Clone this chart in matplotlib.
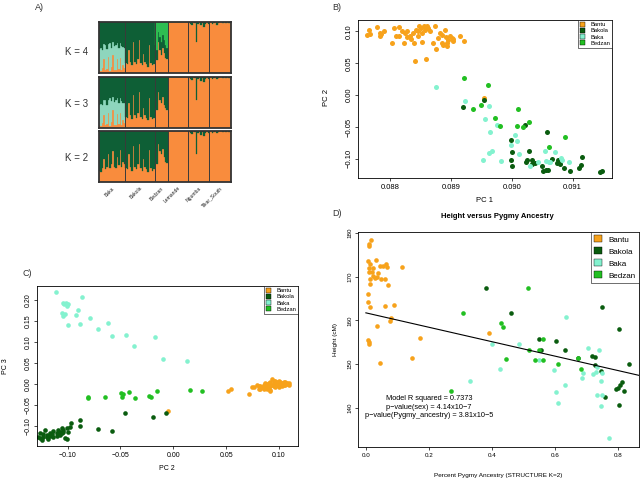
import numpy as np
import matplotlib
matplotlib.use("Agg")
import matplotlib.pyplot as plt
from matplotlib.patches import Patch

plt.rcParams["font.family"] = ["Liberation Sans Narrow", "Liberation Sans", "DejaVu Sans"]

W, H = 642, 482

# ── Panel A: STRUCTURE ancestry proportions ──
groups = ["Baka", "Bakola", "Bedzan", "Lemande", "Ngumba", "Tikar_South"]
group_sizes = [18, 20, 9, 14, 14, 15]

k2_orange = [0.22, 0.20, 0.28, 0.45, 0.25, 0.30, 0.55, 0.27, 0.35, 0.60, 0.30, 0.28, 0.50, 0.33, 0.62, 0.30, 0.40, 0.35,
             0.28, 0.25, 0.55, 0.30, 0.22, 0.70, 0.30, 0.25, 0.35, 0.75, 0.28, 0.22, 0.45, 0.30, 0.25, 0.20, 0.62, 0.28, 0.22, 0.25,
             0.40, 0.35, 0.75, 0.60, 0.55, 0.65, 0.50, 0.40, 0.38,
             1.0, 1.0, 1.0, 1.0, 1.0, 1.0, 1.0, 1.0, 1.0, 1.0, 1.0, 1.0, 1.0, 1.0,
             1.0, 0.97, 0.95, 1.0, 0.98, 0.55, 0.96, 1.0, 0.93, 0.98, 0.90, 0.96, 1.0, 0.97,
             0.98, 1.0, 0.97, 0.99, 1.0, 0.96, 0.99, 1.0, 1.0, 0.98, 1.0, 0.99, 1.0, 0.98, 0.99]

k3_orange = [0.05, 0.03, 0.10, 0.25, 0.05, 0.08, 0.30, 0.04, 0.12, 0.35, 0.06, 0.05, 0.28, 0.08, 0.30, 0.05, 0.15, 0.10,
             0.22, 0.20, 0.50, 0.25, 0.18, 0.65, 0.25, 0.20, 0.30, 0.70, 0.22, 0.18, 0.40, 0.25, 0.20, 0.15, 0.58, 0.22, 0.18, 0.20,
             0.40, 0.35, 0.70, 0.55, 0.50, 0.60, 0.45, 0.40, 0.35,
             1.0, 1.0, 1.0, 1.0, 1.0, 1.0, 1.0, 1.0, 1.0, 1.0, 1.0, 1.0, 1.0, 1.0,
             1.0, 0.97, 0.95, 1.0, 0.98, 0.55, 0.96, 1.0, 0.93, 0.98, 0.91, 0.96, 1.0, 0.97,
             0.98, 1.0, 0.97, 0.99, 1.0, 0.96, 0.99, 1.0, 1.0, 0.98, 1.0, 0.99, 1.0, 0.98, 0.99]
k3_teal_baka = [0.40, 0.45, 0.35, 0.30, 0.50, 0.38, 0.25, 0.55, 0.40, 0.25, 0.45, 0.50, 0.30, 0.42, 0.28, 0.48, 0.35, 0.40]

k4_orange = [0.05, 0.04, 0.10, 0.28, 0.05, 0.08, 0.32, 0.04, 0.12, 0.35, 0.06, 0.05, 0.28, 0.08, 0.30, 0.05, 0.15, 0.10,
             0.20, 0.18, 0.45, 0.22, 0.15, 0.60, 0.22, 0.18, 0.28, 0.65, 0.20, 0.15, 0.38, 0.22, 0.18, 0.12, 0.55, 0.20, 0.15, 0.18,
             0.30, 0.25, 0.60, 0.45, 0.35, 0.50, 0.40, 0.30, 0.28,
             1.0, 1.0, 1.0, 1.0, 1.0, 1.0, 1.0, 1.0, 1.0, 1.0, 1.0, 1.0, 1.0, 1.0,
             1.0, 0.97, 0.95, 1.0, 0.98, 0.60, 0.96, 1.0, 0.94, 0.98, 0.90, 0.96, 1.0, 0.97,
             0.98, 1.0, 0.96, 0.99, 1.0, 0.95, 0.99, 1.0, 1.0, 0.98, 1.0, 0.99, 1.0, 0.98, 0.99]
k4_teal_baka = [0.42, 0.45, 0.35, 0.28, 0.50, 0.40, 0.25, 0.55, 0.38, 0.25, 0.46, 0.50, 0.30, 0.42, 0.28, 0.47, 0.36, 0.40]
k4_green_bedzan = [0.45, 0.55, 0.20, 0.30, 0.40, 0.25, 0.35, 0.45, 0.50]

# ── Panels B-D: populations ──
pops = ["Bantu", "Bakola", "Baka", "Bedzan"]
pop_colors = {"Bantu": "#F7A21B", "Bakola": "#0A5C0F", "Baka": "#84F2CF", "Bedzan": "#22BF22"}

# B) PC1 vs PC2
b_bantu = [(0.08765, 0.1026), (0.08762, 0.0948), (0.08766, 0.0963), (0.08779, 0.1068), (0.08784, 0.0974),
           (0.08783, 0.0932), (0.08785, 0.0958), (0.08790, 0.1010), (0.08803, 0.0817), (0.08807, 0.1052),
           (0.08814, 0.1068), (0.08815, 0.0922), (0.08819, 0.1000), (0.08822, 0.0817), (0.08825, 0.0974),
           (0.08828, 0.1000), (0.08832, 0.0922), (0.08835, 0.0880), (0.08838, 0.0974), (0.08839, 0.0817),
           (0.08843, 0.1026), (0.08845, 0.1000), (0.08848, 0.1078), (0.08850, 0.1052), (0.08852, 0.0974),
           (0.08855, 0.1089), (0.08857, 0.1026), (0.08859, 0.1052), (0.08861, 0.1078), (0.08863, 0.1052),
           (0.08853, 0.0828), (0.08865, 0.1000), (0.08871, 0.0817), (0.08874, 0.1089), (0.08875, 0.0723),
           (0.08879, 0.0896), (0.08882, 0.0974), (0.08885, 0.0817), (0.08886, 0.0948), (0.08890, 0.1026),
           (0.08892, 0.0911), (0.08893, 0.0817), (0.08894, 0.0765), (0.08895, 0.0869), (0.08899, 0.0932),
           (0.08903, 0.0880), (0.08904, 0.0843), (0.08915, 0.0922), (0.08921, 0.0843), (0.08901, 0.0896),
           (0.08887, 0.0791), (0.08810, 0.0932), (0.08828, 0.0911), (0.08846, 0.0922), (0.08841, 0.0530),
           (0.08859, 0.0567), (0.08954, -0.0049)]
b_bakola = [(0.08919, -0.0185), (0.08955, -0.0070), (0.09022, -0.0467), (0.08999, -0.0707), (0.09000, -0.0890),
            (0.08999, -0.1010), (0.09000, -0.1104), (0.09025, -0.1025), (0.09028, -0.0884), (0.09033, -0.1010),
            (0.09033, -0.1078), (0.09039, -0.1072), (0.09050, -0.1114), (0.09052, -0.1192), (0.09056, -0.1182),
            (0.09060, -0.1182), (0.09058, -0.0582), (0.09066, -0.0999), (0.09074, -0.1072), (0.09076, -0.1010),
            (0.09079, -0.1088), (0.09086, -0.1140), (0.09096, -0.1192), (0.09110, -0.1140), (0.09114, -0.1098),
            (0.09116, -0.0968), (0.09145, -0.1208), (0.09149, -0.1192), (0.09024, -0.1046)]
b_baka = [(0.08875, 0.0128), (0.08923, -0.0086), (0.08963, -0.0175), (0.08956, -0.0368), (0.08975, -0.0462),
          (0.08965, -0.0582), (0.08968, -0.0869), (0.08963, -0.0905), (0.08953, -0.1020), (0.08983, -0.1036),
          (0.09006, -0.0618), (0.09008, -0.0723), (0.08999, -0.0785), (0.09012, -0.0921), (0.09030, -0.1114),
          (0.09044, -0.1046), (0.09056, -0.1036), (0.09063, -0.1046), (0.09071, -0.0895), (0.09055, -0.0879),
          (0.09062, -0.1051), (0.09083, -0.1010), (0.09094, -0.1046), (0.09081, -0.0984)]
b_bedzan = [(0.08921, 0.0274), (0.08961, 0.0165), (0.08937, -0.0221), (0.08949, -0.0154), (0.08973, -0.0362),
            (0.08980, -0.0477), (0.09010, -0.0211), (0.09008, -0.0477), (0.09019, -0.0498), (0.09029, -0.0425),
            (0.09062, -0.0811), (0.09087, -0.0650)]

# C) PC2 vs PC3
c_bantu = [(-0.0046, -0.0652), (0.0517, -0.0168), (0.0548, -0.0112), (0.0713, -0.0247), (0.0918, -0.0168),
           (0.0760, -0.0064), (0.0792, -0.0025), (0.0808, -0.0112), (0.0823, -0.0049), (0.0839, -0.0064),
           (0.0855, -0.0025), (0.0871, 0.0031), (0.0887, -0.0001), (0.0887, -0.0128), (0.0912, -0.0144),
           (0.0918, 0.0055), (0.0934, 0.0110), (0.0950, 0.0031), (0.0966, -0.0064), (0.0981, 0.0015),
           (0.0997, 0.0079), (0.1013, -0.0001), (0.1029, -0.0049), (0.1045, 0.0015), (0.1060, 0.0055),
           (0.1076, -0.0001), (0.1092, 0.0015), (0.0934, -0.0025), (0.0950, -0.0049), (0.0981, -0.0025),
           (0.1013, 0.0055), (0.1045, -0.0025), (0.1029, 0.0031), (0.0966, 0.0079), (0.0855, -0.0112),
           (0.0823, -0.0128), (0.0997, -0.0064), (0.1060, -0.0025), (0.0903, 0.0031), (0.0918, -0.0049),
           (0.0871, -0.0049), (0.0997, 0.0031), (0.1045, 0.0055), (0.1076, 0.0031), (0.0950, 0.0079),
           (0.0966, -0.0025), (0.0887, -0.0049), (0.1013, 0.0015), (0.1029, -0.0025), (0.0808, -0.0049),
           (0.0744, -0.0064), (0.0903, -0.0064), (0.0981, 0.0055), (0.1060, 0.0015), (0.1092, -0.0025)]
c_bakola = [(-0.1262, -0.1176), (-0.1231, -0.1255), (-0.1199, -0.1216), (-0.1167, -0.1160), (-0.1136, -0.1112),
            (-0.1104, -0.1176), (-0.1088, -0.1097), (-0.1057, -0.1057), (-0.1041, -0.1136), (-0.1009, -0.1057),
            (-0.0994, -0.1136), (-0.1183, -0.1319), (-0.1246, -0.1335), (-0.1136, -0.1255), (-0.1073, -0.1216),
            (-0.1025, -0.1295), (-0.1009, -0.1319), (-0.1215, -0.1097), (-0.1152, -0.1192), (-0.1104, -0.1240),
            (-0.1278, -0.1271), (-0.0978, -0.1033), (-0.0965, -0.0922), (-0.0883, -0.0858), (-0.0880, -0.1001),
            (-0.0709, -0.1073), (-0.0580, -0.1120), (-0.0456, -0.0684), (-0.0188, -0.0787), (-0.0068, -0.0692),
            (-0.1199, -0.1271), (-0.1167, -0.1240), (-0.1057, -0.1176), (-0.1041, -0.1097), (-0.1073, -0.1136),
            (-0.1262, -0.1295), (-0.1231, -0.1192)]
c_baka = [(-0.1114, 0.2191), (-0.1041, 0.1936), (-0.1032, 0.1905), (-0.1019, 0.1921), (-0.1009, 0.1857),
          (-0.0994, 0.1897), (-0.1051, 0.1698), (-0.1041, 0.1619), (-0.1025, 0.1667), (-0.0997, 0.1405),
          (-0.0921, 0.1635), (-0.0899, 0.1770), (-0.0864, 0.2079), (-0.0883, 0.1428), (-0.0788, 0.1571),
          (-0.0716, 0.1301), (-0.0614, 0.1444), (-0.0583, 0.1135), (-0.0450, 0.1174), (-0.0371, 0.0896),
          (-0.0175, 0.1127), (-0.0093, 0.0603), (0.0128, 0.0555)]
c_bedzan = [(-0.0804, -0.0334), (-0.0646, -0.0311), (-0.0498, -0.0215), (-0.0479, -0.0247), (-0.0482, -0.0311),
            (-0.0422, -0.0199), (-0.0359, -0.0326), (-0.0226, -0.0279), (-0.0213, -0.0319), (-0.0153, -0.0176),
            (0.0160, -0.0136), (0.0270, -0.0168), (-0.0810, -0.0319)]

# D) Height vs pygmy ancestry
d_bantu = [(0.016, 178.4), (0.011, 177.4), (0.011, 176.9), (0.007, 173.6), (0.032, 173.9), (0.013, 172.8),
           (0.010, 172.0), (0.023, 172.0), (0.010, 171.1), (0.055, 172.5), (0.063, 172.9), (0.066, 172.3),
           (0.116, 172.2), (0.039, 170.9), (0.048, 169.4), (0.022, 170.1), (0.013, 169.4), (0.069, 168.0),
           (0.013, 168.2), (0.007, 165.9), (0.007, 164.1), (0.034, 170.0), (0.029, 169.6), (0.012, 163.0),
           (0.060, 163.2), (0.089, 163.6), (0.076, 159.8), (0.080, 160.6), (0.034, 158.6), (0.172, 156.0),
           (0.008, 155.6), (0.010, 155.0), (0.009, 154.6), (0.148, 151.3), (0.046, 150.2), (0.392, 157.0),
           (0.020, 171.0), (0.045, 172.5), (0.060, 169.5)]
d_bakola = [(0.381, 167.4), (0.462, 161.7), (0.549, 155.8), (0.557, 153.3), (0.603, 155.3), (0.631, 153.2),
            (0.673, 151.3), (0.719, 151.9), (0.726, 151.6), (0.727, 149.8), (0.745, 148.3), (0.751, 163.0),
            (0.804, 158.1), (0.835, 150.0), (0.794, 144.3), (0.800, 144.5), (0.808, 145.3), (0.813, 145.8),
            (0.819, 143.8), (0.758, 142.5), (0.803, 140.7)]
d_baka = [(0.331, 146.1), (0.399, 154.5), (0.427, 148.8), (0.485, 154.5), (0.548, 150.9), (0.596, 148.6),
          (0.605, 143.5), (0.609, 141.0), (0.636, 160.7), (0.631, 145.3), (0.686, 146.8), (0.688, 147.9),
          (0.706, 153.7), (0.721, 147.7), (0.729, 148.2), (0.735, 149.2), (0.740, 153.3), (0.747, 146.2),
          (0.734, 143.0), (0.748, 143.0), (0.745, 140.3), (0.748, 147.9), (0.772, 133.1)]
d_bedzan = [(0.271, 143.9), (0.308, 161.7), (0.428, 159.4), (0.436, 158.4), (0.445, 151.1), (0.515, 167.4),
            (0.518, 153.2), (0.536, 150.9), (0.561, 155.8), (0.562, 150.9), (0.610, 150.1), (0.674, 151.3),
            (0.684, 148.8), (0.548, 153.3)]
d_intercept = 161.7
d_slope = -16.5
d_stats = ["Model R squared = 0.7373",
           "p\u2212value(sex) = 4.14x10\u22127",
           "p\u2212value(Pygmy_ancestry) = 3.81x10\u22125"]

S_ORANGE, S_DKGREEN, S_TEAL, S_GREEN = "#F98C3D", "#0E5F36", "#8ED6BD", "#2EBD52"


def px_axes(fig, x0, y0, x1, y1):
    return fig.add_axes([x0 / W, 1 - y1 / H, (x1 - x0) / W, (y1 - y0) / H])


def structure_panel(ax, layers, colors, show_labels=False):
    n = sum(group_sizes)
    x = np.arange(n)
    bottom = np.zeros(n)
    for vals, c in zip(layers, colors):
        vals = np.asarray(vals, dtype=float)
        ax.bar(x, vals, bottom=bottom, width=1.0, color=c, edgecolor=c, linewidth=0.2)
        bottom = bottom + vals
    ax.set_xlim(-0.5, n - 0.5)
    ax.set_ylim(0, 1)
    edges = np.cumsum(group_sizes)
    for e in edges[:-1]:
        ax.axvline(e - 0.5, color="#3a3a3a", lw=0.7)
    for s in ax.spines.values():
        s.set_linewidth(1.3)
        s.set_color("#333333")
    ax.set_xticks([])
    ax.set_yticks([])
    if show_labels:
        starts = np.concatenate([[0], edges[:-1]])
        for g, st, sz in zip(groups, starts, group_sizes):
            ax.text(st + sz / 2 - 0.5, -0.07, g, rotation=45, ha="right", va="top",
                    rotation_mode="anchor", fontsize=3.6, color="#222222")


def pad_group(vals, group_idx):
    out = np.zeros(sum(group_sizes))
    st = sum(group_sizes[:group_idx])
    out[st:st + len(vals)] = vals
    return out


def r_style(ax, fs):
    for s in ax.spines.values():
        s.set_linewidth(0.6)
    ax.tick_params(direction="out", length=2.5, width=0.5, labelsize=fs, pad=1.5)
    for lbl in ax.get_yticklabels():
        lbl.set_rotation(90)
        lbl.set_va("center")


def r_legend(ax, fs, hl, sp, bp):
    handles = [Patch(facecolor=pop_colors[p], edgecolor="black", linewidth=0.3) for p in pops]
    leg = ax.legend(handles, pops, loc="upper right", fontsize=fs, fancybox=False,
                    borderaxespad=0, handlelength=hl, handleheight=hl, labelspacing=sp,
                    borderpad=bp, handletextpad=0.8)
    leg.get_frame().set_edgecolor("black")
    leg.get_frame().set_linewidth(0.5)


def scatter_pops(ax, sets, size):
    for name, pts in zip(pops, sets):
        arr = np.array(pts)
        ax.scatter(arr[:, 0], arr[:, 1], s=size, color=pop_colors[name], linewidths=0)


fig = plt.figure(figsize=(W / 100, H / 100), dpi=100)

# ── Panel A ──
k2 = np.array(k2_orange)
k3o = np.array(k3_orange)
k3t = pad_group(k3_teal_baka, 0)
k4o = np.array(k4_orange)
k4t = pad_group(k4_teal_baka, 0)
k4g = pad_group(k4_green_bedzan, 2)

ax4 = px_axes(fig, 99, 22, 231, 73)
structure_panel(ax4, [k4o, k4t, 1 - k4o - k4t - k4g, k4g], [S_ORANGE, S_TEAL, S_DKGREEN, S_GREEN])
ax3 = px_axes(fig, 99, 77, 231, 128)
structure_panel(ax3, [k3o, k3t, 1 - k3o - k3t], [S_ORANGE, S_TEAL, S_DKGREEN])
ax2 = px_axes(fig, 99, 131, 231, 182)
structure_panel(ax2, [k2, 1 - k2], [S_ORANGE, S_DKGREEN], show_labels=True)
for lab, y in [("K = 4", 52), ("K = 3", 104), ("K = 2", 158)]:
    fig.text(77 / W, 1 - y / H, lab, fontsize=7, ha="center", va="center", color="#333333")

# ── Panel B ──
axb = px_axes(fig, 358, 20, 612, 178)
scatter_pops(axb, [b_bantu, b_bakola, b_baka, b_bedzan], 13)
axb.set_xlim(0.08747, 0.09165)
axb.set_ylim(-0.130, 0.118)
axb.set_xticks([0.088, 0.089, 0.090, 0.091])
axb.set_xticklabels(["0.088", "0.089", "0.090", "0.091"])
axb.set_yticks([-0.10, -0.05, 0.0, 0.05, 0.10])
axb.set_yticklabels(["\u22120.10", "\u22120.05", "0.00", "0.05", "0.10"])
r_style(axb, 5.5)
r_legend(axb, 4.2, 0.9, 0.1, 0.35)
fig.text(485 / W, 1 - 200 / H, "PC 1", fontsize=5.5, ha="center", va="center")
fig.text(327 / W, 1 - 98 / H, "PC 2", fontsize=5.5, ha="center", va="center", rotation=90)

# ── Panel C ──
axc = px_axes(fig, 37, 286, 298, 446)
scatter_pops(axc, [c_bantu, c_bakola, c_baka, c_bedzan], 11)
axc.set_xlim(-0.129, 0.118)
axc.set_ylim(-0.148, 0.233)
axc.set_xticks([-0.10, -0.05, 0.0, 0.05, 0.10])
axc.set_xticklabels(["\u22120.10", "\u22120.05", "0.00", "0.05", "0.10"])
axc.set_yticks([-0.10, -0.05, 0.0, 0.05, 0.10, 0.15, 0.20])
axc.set_yticklabels(["\u22120.10", "\u22120.05", "0.00", "0.05", "0.10", "0.15", "0.20"])
r_style(axc, 5)
r_legend(axc, 4.2, 0.9, 0.1, 0.35)
fig.text(167 / W, 1 - 468 / H, "PC 2", fontsize=5, ha="center", va="center")
fig.text(6 / W, 1 - 366 / H, "PC 3", fontsize=5, ha="center", va="center", rotation=90)

# ── Panel D ──
axd = px_axes(fig, 358, 232, 639, 447)
scatter_pops(axd, [d_bantu, d_bakola, d_baka, d_bedzan], 11)
axd.set_xlim(-0.025, 0.867)
axd.set_ylim(131.0, 180.2)
# fitted line from zero ancestry to the right edge of the plot
x_fit = np.array([0.0, axd.get_xlim()[1]])
axd.plot(x_fit, d_intercept + d_slope * x_fit, color="black", lw=0.8)
axd.set_xticks([0.0, 0.2, 0.4, 0.6, 0.8])
axd.set_xticklabels(["0.0", "0.2", "0.4", "0.6", "0.8"])
axd.set_yticks([140, 150, 160, 170, 180])
axd.set_yticklabels(["140", "150", "160", "170", "180"])
r_style(axd, 4.5)
r_legend(axd, 5.8, 1.0, 0.45, 0.4)
for i, line in enumerate(d_stats):
    axd.text(0.2, 142.1 - i * 2.0, line, fontsize=5.3, ha="center", va="center")
fig.text(497 / W, 1 - 216 / H, "Height versus Pygmy Ancestry", fontsize=5.5,
         fontweight="bold", ha="center", va="center")
fig.text(498 / W, 1 - 476 / H, "Percent Pygmy Ancestry (STRUCTURE K=2)", fontsize=4.6,
         ha="center", va="center")
fig.text(335 / W, 1 - 339 / H, "Height (cM)", fontsize=4.6, ha="center", va="center", rotation=90)

# panel tags
for tag, x, y in [("A)", 39, 8), ("B)", 337, 7), ("C)", 27, 273), ("D)", 337, 213)]:
    fig.text(x / W, 1 - y / H, tag, fontsize=6.5, ha="center", va="center", color="#333333")

fig.savefig("out.png", dpi=100)
